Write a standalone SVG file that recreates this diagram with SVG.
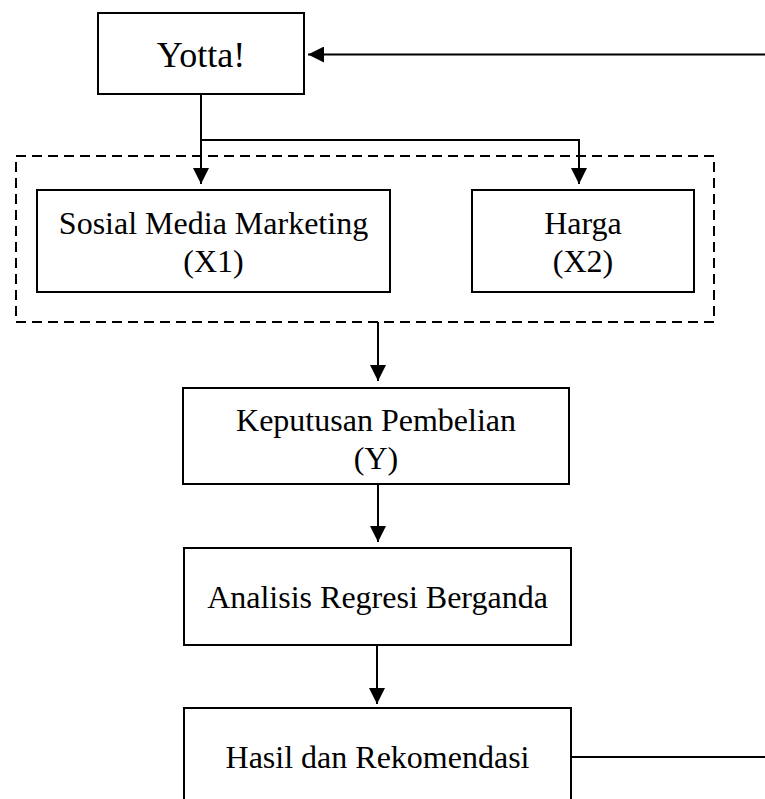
<svg xmlns="http://www.w3.org/2000/svg" width="765" height="799" viewBox="0 0 765 799">
<style>
.box{fill:#fff;stroke:#000;stroke-width:2}
.ln{fill:none;stroke:#000;stroke-width:2}
.dash{fill:none;stroke:#000;stroke-width:2;stroke-dasharray:10 6}
text{font-family:"Liberation Serif","Times New Roman",serif;font-size:32px;fill:#000;text-anchor:middle}
</style>
<defs>
<marker id="ah" viewBox="0 0 16 16" refX="16" refY="8" markerWidth="16" markerHeight="16" markerUnits="userSpaceOnUse" orient="auto">
<path d="M0,0 L16,8 L0,16 Z" fill="#000"/>
</marker>
</defs>
<g id="group-x">
<rect class="dash" x="16" y="156" width="698" height="166"/>
</g>
<g id="connectors">
<path class="ln" d="M765,54.5 L308,54.5" marker-end="url(#ah)"/>
<path class="ln" d="M201,94 L201,140 L579,140 L579,184" marker-end="url(#ah)"/>
<path class="ln" d="M201,140 L201,184" marker-end="url(#ah)"/>
<path class="ln" d="M378,322 L378,381" marker-end="url(#ah)"/>
<path class="ln" d="M378,484 L378,542" marker-end="url(#ah)"/>
<path class="ln" d="M377,645 L377,704" marker-end="url(#ah)"/>
<path class="ln" d="M571,757 L765,757"/>
</g>
<g id="yotta">
<rect class="box" x="98" y="13" width="206" height="81"/>
<text x="201" y="67" style="font-size:36px">Yotta!</text>
</g>
<g id="smm">
<rect class="box" x="37" y="190" width="353" height="102"/>
<text x="213.5" y="234">Sosial Media Marketing</text>
<text x="213.5" y="272">(X1)</text>
</g>
<g id="harga">
<rect class="box" x="472" y="190" width="222" height="102"/>
<text x="583" y="234">Harga</text>
<text x="583" y="272">(X2)</text>
</g>
<g id="keputusan">
<rect class="box" x="183" y="388" width="386" height="96"/>
<text x="376" y="431">Keputusan Pembelian</text>
<text x="376" y="469">(Y)</text>
</g>
<g id="analisis">
<rect class="box" x="184" y="548" width="387" height="97"/>
<text x="377.5" y="608">Analisis Regresi Berganda</text>
</g>
<g id="hasil">
<rect class="box" x="184" y="708" width="387" height="100"/>
<text x="377.5" y="768">Hasil dan Rekomendasi</text>
</g>
</svg>
